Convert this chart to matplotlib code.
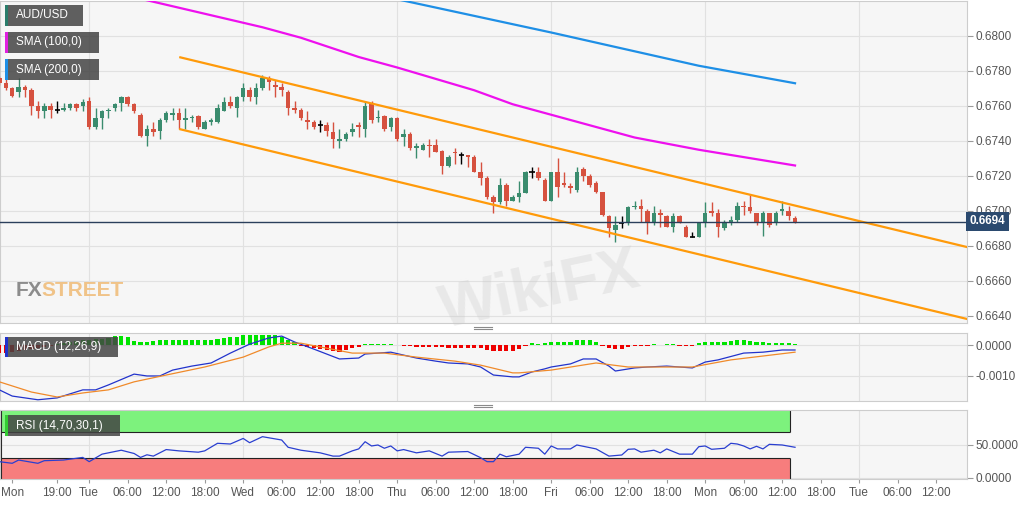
import numpy as np
import matplotlib.pyplot as plt
from matplotlib.patches import Rectangle
from matplotlib.lines import Line2D

plt.rcParams['font.family'] = ['Liberation Sans', 'DejaVu Sans']

# hourly candles, hour 0 = Tue 00:00, weekend removed (Fri 24h -> Mon 96)
hours = np.arange(-14, 111)

opens = [0.6776, 0.6773, 0.6770, 0.6768, 0.6771, 0.6769, 0.6760, 0.6757, 0.6760, 0.6758,
         0.6758, 0.6759, 0.6761, 0.6760, 0.6763, 0.6748, 0.6753, 0.6757, 0.6759, 0.6762,
         0.6765, 0.6761, 0.6755, 0.6743, 0.6747, 0.6746, 0.6752, 0.6755, 0.6756, 0.6752,
         0.6753, 0.6754, 0.6747, 0.6751, 0.6751, 0.6757, 0.6762, 0.6759, 0.6765, 0.6769,
         0.6765, 0.6770, 0.6776, 0.6772, 0.6771, 0.6768, 0.6759, 0.6758, 0.6752, 0.6751,
         0.6749, 0.6749, 0.6745, 0.6740, 0.6741, 0.6745, 0.6749, 0.6747, 0.6761, 0.6753,
         0.6754, 0.6748, 0.6753, 0.6742, 0.6744, 0.6736, 0.6735, 0.6738, 0.6738, 0.6734,
         0.6726, 0.6734, 0.6732, 0.6732, 0.6731, 0.6722, 0.6719, 0.6708, 0.6705, 0.6715,
         0.6706, 0.6708, 0.6710, 0.6722, 0.6722, 0.6718, 0.6706, 0.6722, 0.6716, 0.6714,
         0.6712, 0.6724, 0.6720, 0.6716, 0.6711, 0.6697, 0.6689, 0.6693, 0.6693, 0.6702,
         0.6703, 0.6700, 0.6694, 0.6699, 0.6697, 0.6691, 0.6697, 0.6691, 0.6685, 0.6685,
         0.6693, 0.6700, 0.6699, 0.6690, 0.6693, 0.6695, 0.6703, 0.6702, 0.6699, 0.6693,
         0.6699, 0.6693, 0.6700, 0.6700, 0.6696]
highs = [0.6777, 0.6776, 0.6771, 0.6776, 0.6772, 0.6770, 0.6763, 0.6762, 0.6762, 0.6763,
         0.6762, 0.6762, 0.6762, 0.6764, 0.6765, 0.6759, 0.6758, 0.6759, 0.6762, 0.6766,
         0.6766, 0.6762, 0.6756, 0.6749, 0.6751, 0.6753, 0.6757, 0.6759, 0.6759, 0.6759,
         0.6755, 0.6755, 0.6752, 0.6753, 0.6761, 0.6765, 0.6766, 0.6766, 0.6773, 0.6771,
         0.6773, 0.6778, 0.6777, 0.6775, 0.6773, 0.6769, 0.6763, 0.6759, 0.6757, 0.6752,
         0.6752, 0.6751, 0.6751, 0.6747, 0.6745, 0.6750, 0.6751, 0.6763, 0.6763, 0.6758,
         0.6755, 0.6754, 0.6754, 0.6747, 0.6745, 0.6739, 0.6739, 0.6741, 0.6741, 0.6735,
         0.6732, 0.6736, 0.6734, 0.6732, 0.6732, 0.6728, 0.6720, 0.6709, 0.6719, 0.6716,
         0.6709, 0.6717, 0.6723, 0.6725, 0.6725, 0.6719, 0.6722, 0.6730, 0.6722, 0.6716,
         0.6725, 0.6725, 0.6721, 0.6717, 0.6711, 0.6698, 0.6697, 0.6697, 0.6703, 0.6706,
         0.6707, 0.6701, 0.6703, 0.6701, 0.6698, 0.6699, 0.6698, 0.6692, 0.6688, 0.6693,
         0.6705, 0.6705, 0.6701, 0.6695, 0.6697, 0.6705, 0.6706, 0.6709, 0.6699, 0.6700,
         0.6699, 0.6700, 0.6706, 0.6703, 0.6697]
lows = [0.6772, 0.6769, 0.6765, 0.6765, 0.6765, 0.6755, 0.6753, 0.6753, 0.6753, 0.6756,
        0.6757, 0.6758, 0.6757, 0.6757, 0.6747, 0.6747, 0.6747, 0.6753, 0.6757, 0.6757,
        0.6760, 0.6756, 0.6742, 0.6737, 0.6743, 0.6741, 0.6751, 0.6752, 0.6747, 0.6747,
        0.6751, 0.6747, 0.6747, 0.6749, 0.6750, 0.6757, 0.6759, 0.6754, 0.6763, 0.6763,
        0.6761, 0.6769, 0.6769, 0.6765, 0.6766, 0.6755, 0.6756, 0.6752, 0.6747, 0.6747,
        0.6745, 0.6743, 0.6736, 0.6736, 0.6740, 0.6743, 0.6742, 0.6742, 0.6750, 0.6751,
        0.6746, 0.6746, 0.6740, 0.6737, 0.6735, 0.6730, 0.6735, 0.6731, 0.6734, 0.6721,
        0.6725, 0.6727, 0.6727, 0.6725, 0.6722, 0.6715, 0.6707, 0.6699, 0.6704, 0.6703,
        0.6706, 0.6705, 0.6710, 0.6719, 0.6718, 0.6706, 0.6706, 0.6708, 0.6714, 0.6710,
        0.6711, 0.6717, 0.6714, 0.6710, 0.6697, 0.6685, 0.6682, 0.6690, 0.6692, 0.6701,
        0.6694, 0.6687, 0.6692, 0.6691, 0.6691, 0.6688, 0.6693, 0.6685, 0.6685, 0.6685,
        0.6691, 0.6697, 0.6685, 0.6689, 0.6692, 0.6694, 0.6698, 0.6699, 0.6692, 0.6686,
        0.6691, 0.6692, 0.6698, 0.6695, 0.6693]
closes = [0.6773, 0.6770, 0.6766, 0.6771, 0.6769, 0.6760, 0.6757, 0.6760, 0.6758, 0.6758,
          0.6759, 0.6761, 0.6759, 0.6762, 0.6748, 0.6753, 0.6757, 0.6758, 0.6761, 0.6765,
          0.6761, 0.6757, 0.6743, 0.6747, 0.6745, 0.6752, 0.6756, 0.6756, 0.6752, 0.6753,
          0.6754, 0.6748, 0.6751, 0.6752, 0.6759, 0.6762, 0.6760, 0.6765, 0.6770, 0.6765,
          0.6770, 0.6776, 0.6774, 0.6771, 0.6769, 0.6759, 0.6758, 0.6753, 0.6751, 0.6748,
          0.6749, 0.6746, 0.6741, 0.6741, 0.6744, 0.6747, 0.6748, 0.6760, 0.6752, 0.6754,
          0.6747, 0.6753, 0.6741, 0.6744, 0.6736, 0.6737, 0.6738, 0.6737, 0.6734, 0.6726,
          0.6731, 0.6733, 0.6732, 0.6731, 0.6722, 0.6719, 0.6708, 0.6705, 0.6715, 0.6706,
          0.6708, 0.6710, 0.6722, 0.6722, 0.6719, 0.6706, 0.6722, 0.6714, 0.6715, 0.6713,
          0.6722, 0.6720, 0.6715, 0.6711, 0.6698, 0.6690, 0.6692, 0.6693, 0.6702, 0.6703,
          0.6701, 0.6693, 0.6699, 0.6698, 0.6691, 0.6697, 0.6694, 0.6685, 0.6685, 0.6693,
          0.6699, 0.6699, 0.6691, 0.6693, 0.6695, 0.6703, 0.6702, 0.6700, 0.6693, 0.6699,
          0.6692, 0.6699, 0.6701, 0.6697, 0.6694]
last_price = 0.6694

# moving averages
sma100_h = [6, 27, 33, 42, 48, 60, 66, 72, 80, 85, 95, 110]
sma100_v = [0.6823, 0.6805, 0.6799, 0.6788, 0.6782, 0.6769, 0.6761, 0.6755, 0.6747, 0.6742, 0.6735, 0.6726]
sma200_h = [44, 48, 72, 95, 110]
sma200_v = [0.6824, 0.6821, 0.6802, 0.6783, 0.6773]

# descending channel
chan_h = [14.2, 136.8]
chan_top = [0.67878, 0.66794]
chan_bot = [0.67467, 0.66383]

# MACD (12,26,9)
macd_hist = [-0.00026, -0.00026, -0.00023, -0.00019, -0.00016, -0.00013, -0.00010, -0.00006, -0.00003, 0.00003,
             0.00006, 0.00010, 0.00013, 0.00016, 0.00016, 0.00018, 0.00019, 0.00023, 0.00029, 0.00029,
             0.00026, 0.00013, 0.00010, 0.00010, 0.00013, 0.00015, 0.00016, 0.00016, 0.00016, 0.00016,
             0.00016, 0.00016, 0.00016, 0.00016, 0.00019, 0.00023, 0.00026, 0.00026, 0.00031, 0.00032,
             0.00032, 0.00034, 0.00032, 0.00032, 0.00026, 0.00016, 0.00010, -0.00003, -0.00006, -0.00010,
             -0.00013, -0.00016, -0.00019, -0.00021, -0.00016, -0.00010, -0.00006, 0.00003, 0.00003, 0.00003,
             0.00003, 0.00003, 0.0, -0.00002, -0.00003, -0.00005, -0.00005, -0.00005, -0.00006, -0.00006,
             -0.00008, -0.00008, -0.00008, -0.00008, -0.00010, -0.00010, -0.00016, -0.00019, -0.00019, -0.00019,
             -0.00019, -0.00013, -0.00003, 0.00006, 0.00003, 0.00006, 0.00010, 0.00010, 0.00010, 0.00010,
             0.00015, 0.00016, 0.00015, 0.00010, -0.00003, -0.00010, -0.00013, -0.00013, -0.00006, -0.00002,
             -0.00002, -0.00002, 0.00002, -0.00001, 0.00002, 0.00002, -0.00002, -0.00002, -0.00002, 0.00006,
             0.00010, 0.00010, 0.00010, 0.00010, 0.00013, 0.00016, 0.00016, 0.00013, 0.00010, 0.00010,
             0.00006, 0.00006, 0.00006, 0.00006, 0.00005]
macd_h = [-14, -12, -8, -5, -1, 1, 3, 7, 9, 11, 13, 16, 19, 22, 25, 28, 30, 32, 35, 39, 42, 43, 47, 51,
          54, 56, 59, 61, 63, 66, 67, 69, 71, 72, 75, 77, 79, 81, 82, 85, 87, 90, 92, 94, 96, 98, 102, 105, 108, 110]
macd_v = [-0.00145, -0.00165, -0.00177, -0.00171, -0.00145, -0.00145, -0.00129, -0.00094, -0.00100, -0.00100,
          -0.00081, -0.00068, -0.00058, -0.00026, 0.00003, 0.00023, 0.00029, 0.00010, -0.00013, -0.00045,
          -0.00042, -0.00029, -0.00023, -0.00042, -0.00052, -0.00058, -0.00061, -0.00071, -0.00097, -0.00103,
          -0.00103, -0.00087, -0.00077, -0.00071, -0.00061, -0.00045, -0.00045, -0.00068, -0.00084, -0.00074,
          -0.00071, -0.00068, -0.00071, -0.00074, -0.00055, -0.00048, -0.00026, -0.00023, -0.00016, -0.00016]
signal_h = [-14, -9, -5, -1, 3, 7, 12, 18, 24, 28, 30, 33, 36, 41, 46, 51, 57, 61, 66, 67, 72, 79, 84, 94, 100, 110]
signal_v = [-0.00119, -0.00152, -0.00168, -0.00155, -0.00145, -0.00119, -0.00097, -0.00071, -0.00039, -0.00006,
            0.00006, 0.00006, -0.00006, -0.00026, -0.00026, -0.00039, -0.00052, -0.00065, -0.00090, -0.00090,
            -0.00081, -0.00058, -0.00071, -0.00071, -0.00048, -0.00023]

# RSI (14,70,30,1)
rsi_h = [-14, -12, -11, -8, -7, -4, -1, 0, 2, 5, 7, 8, 9, 10, 12, 14, 17, 18, 20, 22, 24, 25, 27, 30, 31,
         33, 36, 38, 39, 41, 42, 43, 44, 45, 46, 47, 48, 49, 51, 53, 55, 56, 59, 61, 62, 63, 64, 65, 67, 68,
         70, 71, 72, 73, 75, 76, 79, 81, 83, 84, 85, 86, 88, 89, 90, 92, 94, 95, 96, 97, 99, 100, 101, 102,
         103, 104, 105, 106, 108, 110]
rsi_v = [24.5, 22, 27, 22, 26, 27, 31, 24.5, 36, 42, 37, 31, 35, 33, 43, 41, 39, 41, 52.6, 51.5, 60, 53.5, 62.7, 57.6, 46.5,
         42, 38, 33, 33, 41, 44, 55, 48.5, 50, 45, 48.5, 41, 43, 38, 41, 33, 39, 40, 30.6, 24.5, 24.5, 36, 32, 36, 46.5,
         45, 36, 48.5, 44, 44, 50, 44, 33, 34.7, 43.4, 44, 39, 42, 38, 44, 36, 36, 47.4, 48.5, 43.4, 45, 52.6, 51.5, 48.5,
         44, 48, 44, 51, 50, 46.5]

tick_h = [-12, -5, 0, 6, 12, 18, 24, 30, 36, 42, 48, 54, 60, 66, 72, 78, 84, 90, 96, 102, 108, 114, 120, 126, 132]
tick_lab = ['Mon', '19:00', 'Tue', '06:00', '12:00', '18:00', 'Wed', '06:00', '12:00', '18:00', 'Thu', '06:00',
            '12:00', '18:00', 'Fri', '06:00', '12:00', '18:00', 'Mon', '06:00', '12:00', '18:00', 'Tue', '06:00', '12:00']
day_lines = [0, 24, 48, 72, 96, 120]

GREEN = '#3a8c6e'
RED = '#d6513f'
W, H = 1032, 505
fig = plt.figure(figsize=(W / 100, H / 100), dpi=100)
fig.patch.set_facecolor('white')


def panel(top, bottom):
    ax = fig.add_axes([0, 1 - bottom / H, 967 / W, (bottom - top) / H])
    ax.set_facecolor('#f6f6f6')
    for s in ax.spines.values():
        s.set_color('#cdcdcd')
    ax.set_xlim(-13.9, 136.8)
    ax.yaxis.tick_right()
    ax.tick_params(axis='y', length=4, color='#9a9a9a', labelcolor='#555555', labelsize=8.5, pad=2)
    ax.tick_params(axis='x', length=0, labelbottom=False)
    for d in day_lines:
        ax.axvline(d, color='#e1e1e1', lw=0.8, zorder=0)
    ax.grid(axis='y', color='#e1e1e1', lw=0.8)
    ax.set_axisbelow(True)
    return ax


# ---------------- price panel ----------------
ax = panel(1, 323)
ax.set_ylim(0.6636, 0.6820)
pt = np.arange(0.6640, 0.68001, 0.0020)
ax.set_yticks(pt)
ax.set_yticklabels([f'{v:.4f}' for v in pt])

o, hi, lo, c = map(np.array, (opens, highs, lows, closes))
col = np.where(c > o, GREEN, np.where(c < o, RED, 'black'))
ax.vlines(hours, lo, hi, colors=col, lw=1, zorder=3)
ax.bar(hours, np.abs(c - o), bottom=np.minimum(o, c), width=0.7, color=col, zorder=4)
flat = c == o
ax.hlines(c[flat], hours[flat] - 0.4, hours[flat] + 0.4, colors='black', lw=1.2, zorder=4)

ax.plot(sma100_h, sma100_v, color='#ee10ee', lw=1.6, zorder=5)
ax.plot(sma200_h, sma200_v, color='#1e8fe6', lw=1.6, zorder=5)
ax.plot(chan_h, chan_top, color='#ff9a0a', lw=1.6, zorder=5)
ax.plot(chan_h, chan_bot, color='#ff9a0a', lw=1.6, zorder=5)
ax.axhline(last_price, color='#2b3f5c', lw=1, zorder=5)
ax.text(1.003, last_price, f'{last_price:.4f}', transform=ax.get_yaxis_transform(), color='white',
        fontsize=8.5, fontweight='bold', va='center', ha='left', clip_on=False, zorder=10,
        bbox=dict(boxstyle='square,pad=0.3', fc='#2b4a6f', ec='none'))

# ---------------- MACD panel ----------------
axm = panel(333, 401)
axm.set_ylim(-0.00181, 0.00039)
axm.set_yticks([0, -0.001])
axm.set_yticklabels(['0.0000', '-0.0010'])
mh = np.array(macd_hist)
axm.bar(hours, mh, width=0.65, color=np.where(mh >= 0, '#00e400', '#ee0000'), zorder=3)
axm.plot(macd_h, macd_v, color='#2233cc', lw=0.9, zorder=4)
axm.plot(signal_h, signal_v, color='#f08a2a', lw=0.9, zorder=4)

# ---------------- RSI panel ----------------
axr = panel(410, 479)
axr.set_ylim(-2, 103.5)
axr.set_yticks([0, 50])
axr.set_yticklabels(['0.0000', '50.0000'])
band_end = 109.2
axr.add_patch(Rectangle((-14, 70), band_end + 14, 33.5, fc='#7df27d', ec='none', zorder=1))
axr.add_patch(Rectangle((-14, -2), band_end + 14, 32, fc='#f77d7d', ec='none', zorder=1))
axr.hlines([70, 30], -14, band_end, colors='#222222', lw=0.8, zorder=2)
axr.vlines(band_end, 70, 103.5, colors='#222222', lw=0.8, zorder=2)
axr.vlines(band_end, -2, 30, colors='#222222', lw=0.8, zorder=2)
axr.vlines(-13.8, -2, 103.5, colors='#222222', lw=0.8, zorder=2)
axr.plot(rsi_h, rsi_v, color='#2a3fd0', lw=0.9, zorder=4)
axr.set_xticks(tick_h)
axr.set_xticklabels(tick_lab)
axr.tick_params(axis='x', length=3, color='#9a9a9a', labelbottom=True, labelsize=8.5,
                labelcolor='#555555', pad=3)

# ---------------- labels, handles, watermarks ----------------
def tag(x0, y0, x1, y1, text, strip):
    fig.add_artist(Rectangle((x0 / W, 1 - y1 / H), (x1 - x0) / W, (y1 - y0) / H, transform=fig.transFigure,
                             fc='#444444', alpha=0.85, ec='none', zorder=20))
    fig.add_artist(Rectangle((x0 / W, 1 - y1 / H), 2.5 / W, (y1 - y0) / H, transform=fig.transFigure,
                             fc=strip, ec='none', zorder=21))
    fig.text((x0 + 11) / W, 1 - (y0 + y1) / 2 / H, text, color='white', fontsize=8.5,
             va='center', ha='left', zorder=22)


tag(5, 5, 83, 26, 'AUD/USD', '#2a7d6b')
tag(5, 32, 99, 53, 'SMA (100,0)', '#e020e0')
tag(5, 59, 99, 80, 'SMA (200,0)', '#1e8fe6')
tag(5, 337, 118, 357, 'MACD (12,26,9)', '#2233cc')
tag(5, 415, 120, 436, 'RSI (14,70,30,1)', '#33cc33')

for yy in (326.5, 329, 404.5, 407):
    fig.add_artist(Line2D([474 / W, 492 / W], [1 - yy / H] * 2, color='#8a8a8a', lw=0.8, zorder=20))

fig.text(42 / W, 1 - 291 / H, 'FX', color='#8c8c8c', fontsize=15, fontweight='bold', va='center', ha='right',
         zorder=15)
fig.text(41.5 / W, 1 - 291 / H, 'STREET', color='#f0c388', fontsize=15, fontweight='bold', va='center', ha='left',
         zorder=15)
fig.text(540 / W, 1 - 292 / H, 'WikiFX', color='#c8c8c8', alpha=0.3, fontsize=44, fontweight='bold',
         rotation=12, ha='center', va='center', zorder=15)

fig.savefig('out.png', dpi=100)
